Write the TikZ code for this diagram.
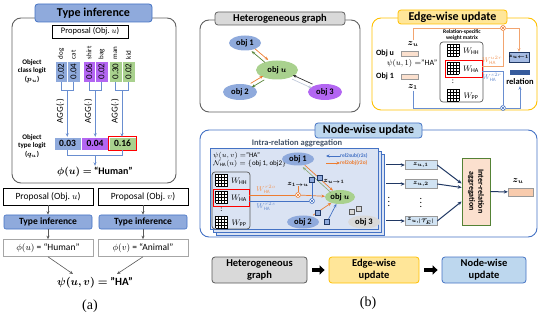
\documentclass[tikz,border=0pt]{standalone}
\usepackage{amsmath,bm}
\usepackage{fontspec}
\setmainfont{Carlito}
\newfontfamily\capfont{Liberation Serif}
\usetikzlibrary{arrows.meta,positioning,calc,shapes.geometric}

\definecolor{tblue}{HTML}{8FAADC}
\definecolor{tpurple}{HTML}{B366F2}
\definecolor{tgreen}{HTML}{A9D18E}
\definecolor{lgray}{HTML}{D9D9D9}
\definecolor{lyellow}{HTML}{FFE699}
\definecolor{dyellow}{HTML}{FFC000}
\definecolor{lblue}{HTML}{BDD7EE}
\definecolor{dblue}{HTML}{4472C4}
\definecolor{pageblue}{HTML}{DAE3F3}
\definecolor{navy}{HTML}{203864}
\definecolor{orng}{HTML}{ED7D31}
\definecolor{beige}{HTML}{F8CBAD}
\definecolor{dgreen}{HTML}{548235}
\definecolor{slate}{HTML}{44546A}

\tikzset{
  panel/.style={draw=#1, rounded corners=9pt, line width=0.9pt},
  ttl/.style={draw=#1, rounded corners=3pt, line width=0.8pt, inner sep=0pt,
    font=\fontsize{12}{14}\selectfont\bfseries},
  cell/.style={draw=white, line width=0.4pt, minimum width=12.5pt, minimum height=21pt, inner sep=0pt},
  tcell/.style={draw=white, line width=0.4pt, minimum width=27.5pt, minimum height=13pt, inner sep=0pt,
    font=\fontsize{9.5}{11}\selectfont\bfseries},
  conn/.style={draw=dblue!80, line width=0.6pt},
  garrow/.style={draw=gray!70!black, line width=0.6pt, ->},
  pbox/.style={draw, line width=0.6pt, minimum width=90pt, minimum height=17pt, inner sep=0pt,
    font=\fontsize{9.5}{11}\selectfont},
  tibox/.style={draw=dblue, fill=tblue, rounded corners=2pt, line width=0.6pt, minimum width=88pt,
    minimum height=14pt, inner sep=0pt, font=\fontsize{9.5}{11}\selectfont\bfseries},
  obj/.style={ellipse, minimum width=32pt, minimum height=15pt, inner sep=0pt,
    font=\fontsize{8.5}{10}\selectfont\bfseries},
  vecbar/.style={draw=gray!80, fill=#1, minimum height=6pt, inner sep=0pt},
  mult/.style={circle, draw=#1, fill=white, minimum size=5pt, inner sep=0pt, line width=0.5pt,
    path picture={\draw[#1, line width=0.5pt]
      (path picture bounding box.north west) -- (path picture bounding box.south east)
      (path picture bounding box.south west) -- (path picture bounding box.north east);}},
  sq/.style={draw=navy, fill=#1, minimum size=5pt, inner sep=0pt, line width=0.5pt},
  sblue/.style={draw=dblue, line width=0.7pt},
  sorng/.style={draw=orng, line width=0.7pt},
  wlab/.style={inner sep=0pt, text=#1, font=\fontsize{7}{8}\selectfont},
  navyarrow/.style={draw=navy, line width=1pt, -{Stealth[length=4pt,width=3.5pt]}},
  flow/.style={draw=#1, rounded corners=3pt, line width=0.8pt, minimum height=26pt, align=center,
    inner sep=0pt, font=\fontsize{10.5}{12}\selectfont\bfseries},
  fat/.style={-{Triangle[length=5pt,width=9pt]}, line width=3.5pt, shorten <=5pt, shorten >=4pt},
  wgrid/.pic={
    \fill[white] (-6,-6) rectangle (6,6);
    \foreach \k in {-6,-3,0,3,6}{
      \draw[line width=0.7pt] (\k,-6) -- (\k,6);
      \draw[line width=0.7pt] (-6,\k) -- (6,\k);
    }
  },
}

\begin{document}
\begin{tikzpicture}[x=1pt, y=-1pt, >={Stealth[length=3.5pt,width=3pt]}]
\useasboundingbox (0,0) rectangle (540,320);

% (a) Type inference
\draw[panel=gray!75!black] (12,18) rectangle (176,183);
\node[ttl=dblue, fill=tblue, minimum width=117pt, minimum height=18pt] (ti) at (93.5,13) {Type inference};
\node[draw, line width=0.6pt, minimum width=76pt, minimum height=13pt, inner sep=0pt,
  font=\fontsize{8.5}{10}\selectfont] (prop) at (90,31.5) {Proposal (Obj.\ $u$)};

% class logits
\foreach \n/\x/\lab/\val/\col in {1/61/dog/0.02/tblue, 2/73.5/cat/0.04/tblue,
    3/89/shirt/0.06/tpurple, 4/101.5/bag/0.02/tpurple, 5/115.5/man/0.30/tgreen, 6/128.5/kid/0.02/tgreen}{
  \node[cell, fill=\col] (c\n) at (\x,71.5) {};
  \node[rotate=90, font=\fontsize{9}{10}\selectfont] at (c\n) {\val};
  \node[rotate=90, anchor=west, inner sep=0pt, font=\fontsize{7}{8}\selectfont] at ([yshift=1.5pt]c\n.north) {\lab};
}
\node[align=center, font=\fontsize{7}{8.5}\selectfont\bfseries] (lp) at (32,71) {Object\\class logit\\($\bm{p_u}$)};

% type logits
\foreach \n/\x/\val/\col in {1/67.5/0.03/tblue, 2/95/0.04/tpurple, 3/122.5/0.16/tgreen}{
  \node[tcell, fill=\col] (t\n) at (\x,143.5) {\val};
}
\draw[red, line width=1pt] (t3.north west) rectangle (t3.south east);
\node[align=center, font=\fontsize{7}{8.5}\selectfont\bfseries] (lq) at (32,146) {Object\\type logit\\($\bm{q_u}$)};

% AGG brackets
\foreach \a/\b/\t in {1/2/1, 3/4/2, 5/6/3}{
  \draw[conn] (c\a.south) -- ++(0,8) -| (c\b.south);
  \coordinate (m\t) at ($(c\a.south)!0.5!(c\b.south)+(0,8)$);
  \draw[conn, ->] (m\t) -- (m\t |- t\t.north);
  \node[rotate=90, font=\fontsize{9}{10}\selectfont] at ($(m\t)+(-7,21)$) {AGG($\cdot$)};
}

% phi(u)
\node[inner sep=1pt, font=\fontsize{10}{12}\selectfont\bfseries] (phiu) at (95,172) {$\bm{\phi(u)=}$ “Human”};
\draw[conn] (t1.south) -- ++(0,5) -| (t3.south);
\coordinate (mt) at ($(t2.south)+(0,5)$);
\draw[conn, ->] (mt) -- (phiu.north);

% two proposals
\node[pbox] (pu) at (48,196.5) {Proposal (Obj.\ $u$)};
\node[pbox] (pv) at (143,196.5) {Proposal (Obj.\ $v$)};
\node[tibox] (tiu) at (48,222) {Type inference};
\node[tibox] (tiv) at (143,222) {Type inference};
\node[pbox, draw=gray!70] (phu) at (48,248) {$\phi(u)$ = “Human”};
\node[pbox, draw=gray!70] (phv) at (143,248) {$\phi(v)$ = “Animal”};
\node[font=\fontsize{11}{13}\selectfont\bfseries] (psi) at (95,283) {$\bm{\psi(u,v)=}$ "HA"};
\draw[garrow] (pu) -- (tiu);
\draw[garrow] (tiu) -- (phu);
\draw[garrow] (pv) -- (tiv);
\draw[garrow] (tiv) -- (phv);
\draw[garrow] (phu.south) -- ([xshift=-22pt]psi.north);
\draw[garrow] (phv.south) -- ([xshift=22pt]psi.north);
\node[font=\capfont\fontsize{14}{16}\selectfont] (capa) at (90,306) {(a)};

% (b) Heterogeneous graph
\draw[panel=gray!75!black] (200,20) rectangle (360,112);
\node[ttl=gray!75!black, fill=lgray, minimum width=130pt, minimum height=13pt,
  font=\fontsize{10.5}{12}\selectfont\bfseries] (hgt) at (280,18.5) {Heterogeneous graph};
\node[obj, fill=tblue] (o1) at (245,43) {obj 1};
\node[obj, fill=tgreen, minimum width=42pt, minimum height=19pt] (ou) at (277,70) {obj $\bm{u}$};
\node[obj, fill=tblue, minimum width=34pt, minimum height=16pt] (o2) at (240,92) {obj 2};
\node[obj, fill=tpurple, minimum width=34pt, minimum height=16pt] (o3) at (325,92) {obj 3};
\draw[->, orng, line width=0.7pt, shorten <=1pt, transform canvas={shift={(1.3pt,1.5pt)}}] (o1) -- (ou);
\draw[->, dgreen, line width=0.7pt, shorten <=1pt, transform canvas={shift={(-1.3pt,-1.5pt)}}] (ou) -- (o1);
\draw[->, orng, line width=0.7pt, shorten <=1pt, transform canvas={shift={(-1pt,1.7pt)}}] (o2) -- (ou);
\draw[->, dgreen, line width=0.7pt, shorten <=1pt, transform canvas={shift={(1pt,-1.7pt)}}] (ou) -- (o2);
\draw[->, gray!40!black, line width=0.7pt, shorten <=1pt, transform canvas={shift={(0.8pt,1.8pt)}}] (o3) -- (ou);
\draw[->, gray!50!dblue!40, line width=0.7pt, shorten <=1pt, transform canvas={shift={(-0.8pt,-1.8pt)}}] (ou) -- (o3);

% Edge-wise update
\draw[panel=dyellow] (372,18) rectangle (537,110);
\node[ttl=dyellow, fill=lyellow, minimum width=109pt, minimum height=14pt] (ewt) at (452.5,17) {Edge-wise update};
\node[font=\fontsize{8}{9}\selectfont\bfseries] (eou) at (385,53.5) {Obj u};
\node[vecbar=beige!60, minimum width=17pt, minimum height=5pt] (ezu) at (409.5,53.5) {};
\node[inner sep=1pt, font=\fontsize{9}{10}\selectfont] (ezul) at (413,44) {$\bm{z_u}$};
\node[font=\fontsize{8}{9}\selectfont] (epsi) at (412,64) {$\psi(u,1)=$"HA"};
\node[font=\fontsize{8}{9}\selectfont\bfseries] (eo1) at (385,76.5) {Obj 1};
\node[vecbar=beige!60, minimum width=17pt, minimum height=5pt] (ez1) at (409.5,76.5) {};
\node[inner sep=1pt, font=\fontsize{9}{10}\selectfont] (ez1l) at (413,87) {$\bm{z_1}$};

% weight matrices
\draw[gray!70!black, line width=0.7pt, rounded corners=3pt] (440,42) rectangle (483,102);
\node[align=center, font=\fontsize{5.5}{6.5}\selectfont\bfseries] (wmt) at (462,35) {Relation-specific\\weight matrix};
\pic at (453,50) {wgrid};
\node[font=\fontsize{8}{9}\selectfont] at (471,51) {$W_{\mathrm{HH}}$};
\pic at (453,68.5) {wgrid};
\node[font=\fontsize{8}{9}\selectfont] at (471,69.5) {$W_{\mathrm{HA}}$};
\node[font=\fontsize{8}{9}\selectfont] at (453,82) {:};
\pic at (453,95) {wgrid};
\node[font=\fontsize{8}{9}\selectfont] at (471,96) {$W_{\mathrm{PP}}$};
\node[draw=red, line width=0.9pt, minimum width=37pt, minimum height=17pt, inner sep=0pt] (ered) at (463.5,68.5) {};

% messages
\node[mult=orng] (ext) at (503,28) {};
\node[mult=dblue] (exb) at (503,108) {};
\node[draw=navy, fill=tblue!80, minimum width=18pt, minimum height=10pt, inner sep=0pt,
  font=\fontsize{5}{6}\selectfont] (ezb) at (519,57) {$\bm{z_{u\leftarrow 1}}$};
\node[fill=dblue!80!black, minimum width=20pt, minimum height=5pt, inner sep=0pt] (erb) at (520,72.5) {};
\node[inner sep=1pt, font=\fontsize{8.5}{10}\selectfont\bfseries] (erl) at (520,82) {relation};
\draw[sorng, draw=orng!70] (ezul.north) |- (ext);
\draw[sorng, draw=orng!70, ->] (ext) -| (ezb.north);
\draw[sorng, draw=orng!70] ([yshift=2.5pt]ered.east) -| (ext);
\draw[sblue, draw=dblue!80] (ez1l.south) |- (exb);
\draw[sblue, draw=dblue!80, ->] (exb) -| (erl.south);
\draw[sblue, draw=dblue!80] ([yshift=-2.5pt]ered.east) -| (exb);
\node[wlab=orng!80, anchor=south] at (492,65) {$W_{\mathrm{HA}}^{u2r}$};
\node[wlab=dblue!80, anchor=north] at (492,73) {$W_{\mathrm{HA}}^{s2r}$};

% Node-wise update
\draw[panel=dblue] (200,130) rectangle (537,237);
\node[ttl=dblue, fill=lblue, minimum width=107pt, minimum height=15pt] (nwt) at (368.5,130.5) {Node-wise update};
\node[text=slate, font=\fontsize{8.5}{10}\selectfont\bfseries] (ira) at (297,143) {Intra-relation aggregation};
\foreach \d in {6,3,0}{
  \draw[draw=dblue, fill=pageblue, line width=0.6pt] (210+\d,148+\d) rectangle (378+\d,229+\d);
}
\node[anchor=west, inner sep=0pt, font=\fontsize{7}{8}\selectfont] (hpsi) at (213,155.5) {$\psi(u,v)=$"HA"};
\node[anchor=west, inner sep=0pt, font=\fontsize{7}{8}\selectfont] (hnb) at (213,164) {$\mathcal{N}_{\mathrm{HA}}(u)=\{$obj 1, obj2$\}$};
\draw[gray!70!black, line width=0.7pt, rounded corners=3pt] (212,172) rectangle (250,229);
\pic at (221.5,180) {wgrid};
\node[font=\fontsize{8}{9}\selectfont] at (239,181) {$W_{\mathrm{HH}}$};
\pic at (221.5,197.5) {wgrid};
\node[font=\fontsize{8}{9}\selectfont] at (239,198.5) {$W_{\mathrm{HA}}$};
\node[font=\fontsize{8}{9}\selectfont] at (221.5,210) {:};
\pic at (221.5,222) {wgrid};
\node[font=\fontsize{8}{9}\selectfont] at (239,223) {$W_{\mathrm{PP}}$};
\node[draw=red, line width=0.9pt, minimum width=36pt, minimum height=17pt, inner sep=0pt] (nred) at (231,197.5) {};

% objects in the relation
\node[obj, fill=tblue, minimum height=13pt] (n1) at (298,159) {obj 1};
\node[obj, fill=tgreen, minimum width=30pt, minimum height=14pt] (nu) at (340,197) {obj $\bm{u}$};
\node[obj, fill=tblue, minimum height=13pt] (n2) at (303,222) {obj 2};
\node[obj, fill=gray!30, minimum height=13pt] (n3) at (364,222) {obj 3};
\node[mult=orng] (nxo) at (298,195) {};
\node[mult=dblue] (nxs) at (312,201) {};
\node[inner sep=0pt, font=\fontsize{7}{8}\selectfont] (lz1) at (298,184) {$\bm{z_{1\to u}}$};
\node[inner sep=0pt, font=\fontsize{7}{8}\selectfont] (lzu) at (334,181) {$\bm{z_{u\to 1}}$};
\draw[sorng, ->] (n1) -- (nu);
\draw[dgreen!70, line width=0.6pt, ->, transform canvas={shift={(-2pt,-2pt)}}] (nu) -- (n1);
\draw[sorng] (nred.east |- nxo) -- (nxo);
\draw[sorng, ->] (nxo) -- (nu);
\draw[sorng] (lz1) -- (nxo);
\draw[sblue] (nred.east |- nxs) -- (nxs);
\node[sq=tblue] (sq1) at (312,180) {};
\node[sq=tblue] (sq2) at (320,178) {};
\node[sq=tblue] (sq3) at (318,213) {};
\node[sq=tblue] (sq4) at (327,222) {};
\node[sq=gray!30, draw=gray!70!black] (sq5) at (352,212) {};
\node[sq=gray!30, draw=gray!70!black] (sq6) at (359,209) {};
\draw[sblue] (nxs) -- (sq1);
\draw[sorng, ->, shorten <=2pt] (n2) -- (nu);
\draw[sblue, ->] (sq4) -- (nu);
\node[sq=tblue] at (318,213) {};

% legend
\node[anchor=west, inner sep=0pt, text=dblue, font=\fontsize{5.5}{6.5}\selectfont\bfseries] (lgs) at (340,156) {rel2sub(r2s)};
\node[anchor=west, inner sep=0pt, text=orng, font=\fontsize{5.5}{6.5}\selectfont\bfseries] (lgo) at (340,163) {rel2obj(r2o)};
\draw[sblue, ->] (lgs.west) -- ++(-14,0);
\draw[sorng, ->] ([xshift=-14pt]lgo.west) -- (lgo.west);
\node[wlab=orng!80, anchor=south] at (266,193.5) {$W_{\mathrm{HA}}^{r2o}$};
\node[wlab=dblue!80, anchor=north] at (266,202.5) {$W_{\mathrm{HA}}^{r2s}$};

% inter-relation aggregation
\coordinate (pgr) at (386,0);
\node[vecbar=lblue!70, minimum width=32pt, minimum height=9pt, font=\fontsize{6.5}{7}\selectfont] (zv1) at (421,165) {$\bm{z_{u,1}}$};
\node[vecbar=lblue!70, minimum width=32pt, minimum height=9pt, font=\fontsize{6.5}{7}\selectfont] (zv2) at (421,184) {$\bm{z_{u,2}}$};
\node[vecbar=lblue!70, minimum width=32pt, minimum height=9pt, font=\fontsize{6.5}{7}\selectfont] (zv3) at (421,221) {$\bm{z_{u,|\mathcal{T}_E|}}$};
\node at (389,199) {$\vdots$};
\node at (421,200) {$\vdots$};
\draw[navyarrow] (pgr |- zv1) -- (zv1);
\draw[navyarrow] (pgr |- zv2) -- (zv2);
\draw[navyarrow] (pgr |- zv3) -- (zv3);
\node[draw=dgreen, fill=beige!60, line width=0.8pt, minimum width=28pt, minimum height=67pt, inner sep=0pt] (agg) at (476,191.5) {};
\node[rotate=-90, align=center, font=\fontsize{8}{9}\selectfont\bfseries] at (agg) {Inter-relation\\aggregation};
\draw[navyarrow] (zv1.east) -- ($(agg.west)+(0,-8)$);
\draw[navyarrow] (zv2.east) -- ($(agg.west)+(0,-4)$);
\draw[navyarrow] (zv3.east) -- ($(agg.west)+(0,10)$);
\node[vecbar=beige, minimum width=25pt, minimum height=8pt] (zuv) at (520.5,192) {};
\node[font=\fontsize{9}{10}\selectfont] (zul) at (518,181) {$\bm{z_u}$};
\draw[navyarrow] (agg) -- (zuv);

% pipeline
\node[flow=gray!70!black, fill=lgray, minimum width=95pt] (fhg) at (259.5,270) {Heterogeneous\\graph};
\node[flow=dyellow, fill=lyellow, minimum width=90pt] (few) at (374,270) {Edge-wise\\update};
\node[flow=dblue, fill=lblue, minimum width=84pt] (fnw) at (484,270) {Node-wise\\update};
\draw[fat] (fhg) -- (few);
\draw[fat] (few) -- (fnw);
\node[font=\capfont\fontsize{14}{16}\selectfont] (capb) at (368,303) {(b)};

\end{tikzpicture}
\end{document}
